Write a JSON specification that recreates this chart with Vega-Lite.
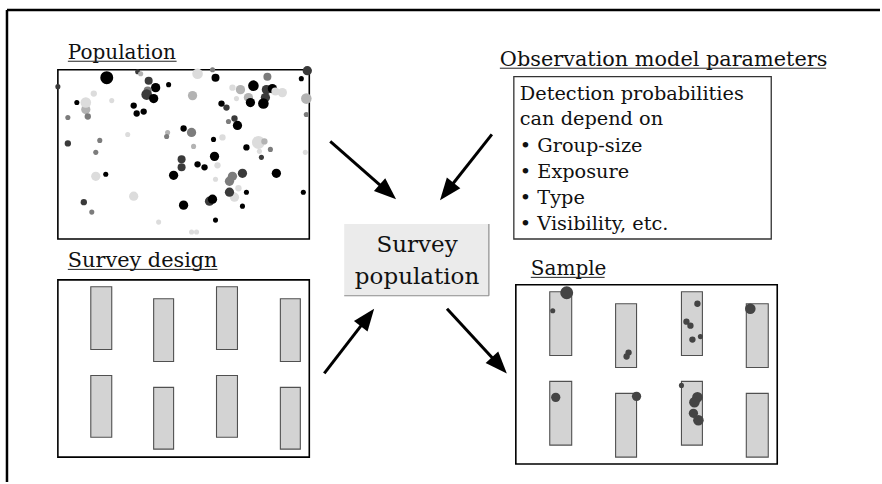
{
  "$schema": "https://vega.github.io/schema/vega-lite/v6.json",
  "width": 882,
  "height": 484,
  "autosize": {"type": "fit", "contains": "padding"},
  "padding": 0,
  "background": "white",
  "config": {"view": {"stroke": null}},
  "datasets": {
    "frame": [
      {"x": 7, "y": 10, "x2": 882, "y2": 10},
      {"x": 7, "y": 10, "x2": 7, "y2": 484}
    ],
    "panels": [
      {"name": "Population", "x": 58, "x2": 310, "y": 70, "y2": 240},
      {"name": "Survey design", "x": 58, "x2": 310, "y": 281, "y2": 459},
      {"name": "Sample", "x": 517, "x2": 779, "y": 286, "y2": 466}
    ],
    "obsbox": [
      {"name": "Observation model parameters", "x": 515, "x2": 773, "y": 77, "y2": 240}
    ],
    "survbox": [
      {"name": "Survey population", "x": 345, "x2": 490, "y": 225, "y2": 297}
    ],
    "survshadow": [
      {"x": 490, "y": 225, "x2": 490, "y2": 297},
      {"x": 345, "y": 297, "x2": 490, "y2": 297}
    ],
    "strips": [
      {"panel": "design", "x": 91, "x2": 112, "y": 288, "y2": 351},
      {"panel": "design", "x": 154, "x2": 174, "y": 300, "y2": 363},
      {"panel": "design", "x": 217, "x2": 238, "y": 288, "y2": 351},
      {"panel": "design", "x": 281, "x2": 301, "y": 300, "y2": 363},
      {"panel": "design", "x": 91, "x2": 112, "y": 377, "y2": 439},
      {"panel": "design", "x": 154, "x2": 174, "y": 389, "y2": 451},
      {"panel": "design", "x": 217, "x2": 238, "y": 377, "y2": 439},
      {"panel": "design", "x": 281, "x2": 301, "y": 389, "y2": 451},
      {"panel": "sample", "x": 551, "x2": 573, "y": 293, "y2": 357},
      {"panel": "sample", "x": 617, "x2": 638, "y": 305, "y2": 369},
      {"panel": "sample", "x": 683, "x2": 704, "y": 293, "y2": 357},
      {"panel": "sample", "x": 748, "x2": 770, "y": 305, "y2": 369},
      {"panel": "sample", "x": 551, "x2": 573, "y": 383, "y2": 447},
      {"panel": "sample", "x": 617, "x2": 638, "y": 395, "y2": 459},
      {"panel": "sample", "x": 683, "x2": 704, "y": 383, "y2": 447},
      {"panel": "sample", "x": 748, "x2": 770, "y": 395, "y2": 459}
    ],
    "population": [
      {"x": 107, "y": 78, "g": 6, "t": 1},
      {"x": 138, "y": 72, "g": 1, "t": 2},
      {"x": 141, "y": 74, "g": 1, "t": 4},
      {"x": 149, "y": 81, "g": 3, "t": 2},
      {"x": 156, "y": 88, "g": 4, "t": 1},
      {"x": 148, "y": 91, "g": 3, "t": 3},
      {"x": 147, "y": 95, "g": 5, "t": 2},
      {"x": 154, "y": 99, "g": 4, "t": 1},
      {"x": 169, "y": 85, "g": 1, "t": 1},
      {"x": 198, "y": 74, "g": 5, "t": 5},
      {"x": 213, "y": 70, "g": 1, "t": 3},
      {"x": 216, "y": 78, "g": 3, "t": 1},
      {"x": 254, "y": 86, "g": 5, "t": 1},
      {"x": 268, "y": 77, "g": 3, "t": 3},
      {"x": 267, "y": 90, "g": 4, "t": 2},
      {"x": 273, "y": 89, "g": 4, "t": 1},
      {"x": 283, "y": 93, "g": 4, "t": 5},
      {"x": 276, "y": 92, "g": 3, "t": 5},
      {"x": 308, "y": 71, "g": 4, "t": 2},
      {"x": 302, "y": 79, "g": 1, "t": 1},
      {"x": 307, "y": 99, "g": 5, "t": 4},
      {"x": 307, "y": 115, "g": 1, "t": 3},
      {"x": 58, "y": 87, "g": 1, "t": 2},
      {"x": 77, "y": 103, "g": 1, "t": 1},
      {"x": 86, "y": 110, "g": 4, "t": 4},
      {"x": 86, "y": 103, "g": 5, "t": 5},
      {"x": 88, "y": 117, "g": 2, "t": 3},
      {"x": 94, "y": 94, "g": 2, "t": 5},
      {"x": 68, "y": 118, "g": 1, "t": 3},
      {"x": 112, "y": 101, "g": 1, "t": 5},
      {"x": 134, "y": 106, "g": 2, "t": 1},
      {"x": 137, "y": 114, "g": 2, "t": 1},
      {"x": 144, "y": 112, "g": 2, "t": 1},
      {"x": 193, "y": 96, "g": 4, "t": 4},
      {"x": 222, "y": 104, "g": 2, "t": 1},
      {"x": 227, "y": 108, "g": 2, "t": 2},
      {"x": 233, "y": 88, "g": 2, "t": 5},
      {"x": 241, "y": 90, "g": 4, "t": 4},
      {"x": 237, "y": 99, "g": 1, "t": 5},
      {"x": 249, "y": 98, "g": 4, "t": 4},
      {"x": 251, "y": 103, "g": 4, "t": 1},
      {"x": 266, "y": 98, "g": 4, "t": 2},
      {"x": 264, "y": 104, "g": 5, "t": 1},
      {"x": 235, "y": 119, "g": 2, "t": 2},
      {"x": 229, "y": 122, "g": 1, "t": 3},
      {"x": 238, "y": 126, "g": 4, "t": 1},
      {"x": 68, "y": 144, "g": 2, "t": 2},
      {"x": 100, "y": 141, "g": 1, "t": 3},
      {"x": 96, "y": 153, "g": 1, "t": 3},
      {"x": 128, "y": 135, "g": 1, "t": 5},
      {"x": 168, "y": 133, "g": 1, "t": 4},
      {"x": 167, "y": 137, "g": 1, "t": 3},
      {"x": 184, "y": 129, "g": 2, "t": 1},
      {"x": 192, "y": 133, "g": 4, "t": 3},
      {"x": 194, "y": 147, "g": 1, "t": 4},
      {"x": 214, "y": 140, "g": 1, "t": 1},
      {"x": 223, "y": 138, "g": 2, "t": 5},
      {"x": 259, "y": 143, "g": 6, "t": 5},
      {"x": 265, "y": 142, "g": 2, "t": 4},
      {"x": 247, "y": 148, "g": 2, "t": 1},
      {"x": 260, "y": 152, "g": 1, "t": 5},
      {"x": 271, "y": 150, "g": 1, "t": 3},
      {"x": 262, "y": 158, "g": 1, "t": 2},
      {"x": 306, "y": 153, "g": 1, "t": 5},
      {"x": 215, "y": 157, "g": 4, "t": 1},
      {"x": 182, "y": 160, "g": 3, "t": 2},
      {"x": 182, "y": 168, "g": 3, "t": 2},
      {"x": 198, "y": 165, "g": 2, "t": 1},
      {"x": 205, "y": 168, "g": 2, "t": 1},
      {"x": 218, "y": 166, "g": 2, "t": 5},
      {"x": 174, "y": 176, "g": 4, "t": 1},
      {"x": 216, "y": 180, "g": 1, "t": 5},
      {"x": 96, "y": 177, "g": 4, "t": 5},
      {"x": 106, "y": 175, "g": 1, "t": 1},
      {"x": 233, "y": 177, "g": 4, "t": 3},
      {"x": 230, "y": 182, "g": 4, "t": 3},
      {"x": 243, "y": 174, "g": 4, "t": 2},
      {"x": 277, "y": 174, "g": 4, "t": 1},
      {"x": 239, "y": 189, "g": 2, "t": 5},
      {"x": 235, "y": 198, "g": 4, "t": 5},
      {"x": 230, "y": 193, "g": 4, "t": 2},
      {"x": 247, "y": 193, "g": 1, "t": 1},
      {"x": 304, "y": 193, "g": 1, "t": 1},
      {"x": 210, "y": 202, "g": 4, "t": 2},
      {"x": 213, "y": 200, "g": 4, "t": 1},
      {"x": 184, "y": 206, "g": 4, "t": 1},
      {"x": 134, "y": 197, "g": 4, "t": 5},
      {"x": 84, "y": 203, "g": 2, "t": 2},
      {"x": 92, "y": 213, "g": 1, "t": 3},
      {"x": 243, "y": 207, "g": 1, "t": 1},
      {"x": 216, "y": 221, "g": 1, "t": 1},
      {"x": 159, "y": 223, "g": 1, "t": 5},
      {"x": 192, "y": 233, "g": 1, "t": 5},
      {"x": 197, "y": 233, "g": 1, "t": 5}
    ],
    "sampled": [
      {"x": 568, "y": 294, "g": 6},
      {"x": 554, "y": 312, "g": 1},
      {"x": 630, "y": 354, "g": 2},
      {"x": 628, "y": 358, "g": 2},
      {"x": 699, "y": 305, "g": 2},
      {"x": 688, "y": 323, "g": 2},
      {"x": 692, "y": 327, "g": 2},
      {"x": 694, "y": 341, "g": 2},
      {"x": 702, "y": 338, "g": 1},
      {"x": 752, "y": 310, "g": 5},
      {"x": 557, "y": 399, "g": 4},
      {"x": 638, "y": 398, "g": 4},
      {"x": 683, "y": 387, "g": 1},
      {"x": 699, "y": 399, "g": 5},
      {"x": 696, "y": 404, "g": 5},
      {"x": 695, "y": 415, "g": 4},
      {"x": 700, "y": 422, "g": 5}
    ],
    "titles": [
      {"label": "Population", "x": 68, "y": 59, "x2": 177, "uy": 61.5, "fs": 20},
      {"label": "Observation model parameters", "x": 501, "y": 66, "x2": 828, "uy": 68.5, "fs": 20.8},
      {"label": "Survey design", "x": 68, "y": 268, "x2": 218, "uy": 270.5, "fs": 20.8},
      {"label": "Sample", "x": 532, "y": 276, "x2": 606, "uy": 278.5, "fs": 20}
    ],
    "obslines": [
      {"label": "Detection probabilities", "x": 521, "y": 100},
      {"label": "can depend on", "x": 521, "y": 126},
      {"label": "• Group-size", "x": 521, "y": 152.5},
      {"label": "• Exposure", "x": 521, "y": 179},
      {"label": "• Type", "x": 521, "y": 205},
      {"label": "• Visibility, etc.", "x": 521, "y": 231}
    ],
    "survlines": [
      {"label": "Survey", "x": 418, "y": 253},
      {"label": "population", "x": 418, "y": 285}
    ],
    "arrows": [
      {"from": "Population", "x": 331, "y": 142, "x2": 389.5, "y2": 193.4, "tx": 397, "ty": 200, "heading": 131.3},
      {"from": "Observation model parameters", "x": 493, "y": 135, "x2": 447.2, "y2": 193.1, "tx": 441, "ty": 201, "heading": 218.2},
      {"from": "Survey design", "x": 325, "y": 375, "x2": 368.9, "y2": 317.9, "tx": 375, "ty": 310, "heading": 37.6},
      {"from": "Survey population", "x": 448, "y": 310, "x2": 501.2, "y2": 367.7, "tx": 508, "ty": 375, "heading": 137.3}
    ]
  },
  "layer": [
    {
      "data": {"name": "frame"},
      "mark": {"type": "rule", "color": "black", "strokeWidth": 2.5},
      "encoding": {
        "x": {"field": "x", "type": "quantitative", "scale": {"domain": [0, 882], "nice": false, "zero": false}, "axis": null},
        "y": {"field": "y", "type": "quantitative", "scale": {"domain": [0, 484], "nice": false, "zero": false, "reverse": true}, "axis": null},
        "x2": {"field": "x2"},
        "y2": {"field": "y2"}
      }
    },
    {
      "data": {"name": "panels"},
      "mark": {"type": "rect", "fill": "white", "stroke": "black", "strokeWidth": 1.6},
      "encoding": {
        "x": {"field": "x", "type": "quantitative", "axis": null},
        "x2": {"field": "x2"},
        "y": {"field": "y", "type": "quantitative", "axis": null},
        "y2": {"field": "y2"}
      }
    },
    {
      "data": {"name": "obsbox"},
      "mark": {"type": "rect", "fill": "white", "stroke": "#333333", "strokeWidth": 1.3},
      "encoding": {
        "x": {"field": "x", "type": "quantitative", "axis": null},
        "x2": {"field": "x2"},
        "y": {"field": "y", "type": "quantitative", "axis": null},
        "y2": {"field": "y2"}
      }
    },
    {
      "data": {"name": "survbox"},
      "mark": {"type": "rect", "fill": "#ebebeb"},
      "encoding": {
        "x": {"field": "x", "type": "quantitative", "axis": null},
        "x2": {"field": "x2"},
        "y": {"field": "y", "type": "quantitative", "axis": null},
        "y2": {"field": "y2"}
      }
    },
    {
      "data": {"name": "survshadow"},
      "mark": {"type": "rule", "color": "#8c8c8c", "strokeWidth": 1.2},
      "encoding": {
        "x": {"field": "x", "type": "quantitative", "axis": null},
        "y": {"field": "y", "type": "quantitative", "axis": null},
        "x2": {"field": "x2"},
        "y2": {"field": "y2"}
      }
    },
    {
      "data": {"name": "strips"},
      "mark": {"type": "rect", "fill": "#d3d3d3", "stroke": "#505050", "strokeWidth": 1.1},
      "encoding": {
        "x": {"field": "x", "type": "quantitative", "axis": null},
        "x2": {"field": "x2"},
        "y": {"field": "y", "type": "quantitative", "axis": null},
        "y2": {"field": "y2"}
      }
    },
    {
      "data": {"name": "population"},
      "mark": {"type": "circle", "opacity": 1},
      "encoding": {
        "x": {"field": "x", "type": "quantitative", "axis": null},
        "y": {"field": "y", "type": "quantitative", "axis": null},
        "size": {"field": "g", "type": "quantitative", "scale": {"type": "threshold", "domain": [1.5, 2.5, 3.5, 4.5, 5.5], "range": [26, 40, 64, 86, 112, 168]}, "legend": null},
        "color": {"field": "t", "type": "nominal", "scale": {"domain": [1, 2, 3, 4, 5], "range": ["#000000", "#3a3a3a", "#7c7c7c", "#b3b3b3", "#dcdcdc"]}, "legend": null}
      }
    },
    {
      "data": {"name": "sampled"},
      "mark": {"type": "circle", "opacity": 1, "color": "#444444"},
      "encoding": {
        "x": {"field": "x", "type": "quantitative", "axis": null},
        "y": {"field": "y", "type": "quantitative", "axis": null},
        "size": {"field": "g", "type": "quantitative", "scale": {"type": "threshold", "domain": [1.5, 2.5, 3.5, 4.5, 5.5], "range": [26, 40, 64, 86, 112, 168]}, "legend": null}
      }
    },
    {
      "data": {"name": "titles"},
      "mark": {"type": "text", "align": "left", "baseline": "alphabetic", "font": "DejaVu Serif", "color": "#111111"},
      "encoding": {
        "x": {"field": "x", "type": "quantitative", "axis": null},
        "y": {"field": "y", "type": "quantitative", "axis": null},
        "text": {"field": "label"},
        "size": {"field": "fs", "type": "quantitative", "scale": null}
      }
    },
    {
      "data": {"name": "titles"},
      "mark": {"type": "rule", "color": "#222222", "strokeWidth": 1},
      "encoding": {
        "x": {"field": "x", "type": "quantitative", "axis": null},
        "x2": {"field": "x2"},
        "y": {"field": "uy", "type": "quantitative", "axis": null}
      }
    },
    {
      "data": {"name": "obslines"},
      "mark": {"type": "text", "align": "left", "baseline": "alphabetic", "font": "DejaVu Serif", "fontSize": 19.3, "color": "#111111"},
      "encoding": {
        "x": {"field": "x", "type": "quantitative", "axis": null},
        "y": {"field": "y", "type": "quantitative", "axis": null},
        "text": {"field": "label"}
      }
    },
    {
      "data": {"name": "survlines"},
      "mark": {"type": "text", "align": "center", "baseline": "alphabetic", "font": "DejaVu Serif", "fontSize": 23, "color": "#111111"},
      "encoding": {
        "x": {"field": "x", "type": "quantitative", "axis": null},
        "y": {"field": "y", "type": "quantitative", "axis": null},
        "text": {"field": "label"}
      }
    },
    {
      "data": {"name": "arrows"},
      "mark": {"type": "rule", "color": "black", "strokeWidth": 3},
      "encoding": {
        "x": {"field": "x", "type": "quantitative", "axis": null},
        "y": {"field": "y", "type": "quantitative", "axis": null},
        "x2": {"field": "x2"},
        "y2": {"field": "y2"}
      }
    },
    {
      "data": {"name": "arrows"},
      "mark": {"type": "point", "shape": "M0,0L-0.78,2L0.78,2Z", "filled": true, "color": "black", "opacity": 1, "size": 484},
      "encoding": {
        "x": {"field": "tx", "type": "quantitative", "axis": null},
        "y": {"field": "ty", "type": "quantitative", "axis": null},
        "angle": {"field": "heading", "type": "quantitative", "scale": {"domain": [0, 360], "range": [0, 360]}}
      }
    }
  ]
}
